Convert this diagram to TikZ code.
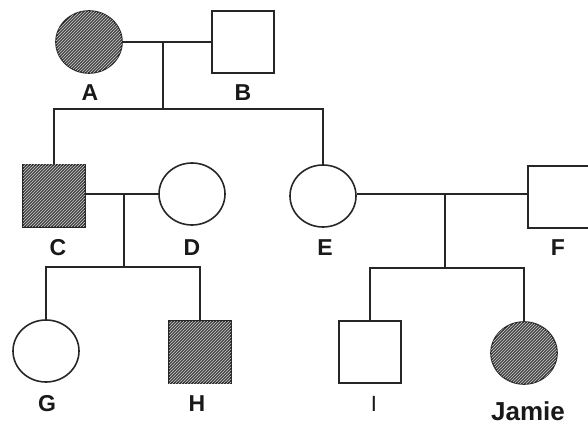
\documentclass[tikz,border=0pt]{standalone}
\usepackage{fontspec}
\setmainfont{Liberation Sans}
\usetikzlibrary{shapes.geometric,patterns}
\tikzset{
  line/.style={line width=1.6pt, draw=black!85},
  female/.style={ellipse, draw=black!85, line width=1.6pt, minimum width=66pt, minimum height=62pt, inner sep=0pt},
  male/.style={rectangle, draw=black!85, line width=1.6pt, minimum width=62pt, minimum height=62pt, inner sep=0pt},
  affected/.style={fill=black!72, postaction={pattern=north east lines, pattern color=white!80!black}},
  lbl/.style={font=\bfseries\fontsize{23}{26}\selectfont, inner sep=0pt, text=black!90}
}
\begin{document}
\begin{tikzpicture}[x=1pt,y=-1pt]
\useasboundingbox (0,0) rectangle (588,427);
% generation I
\node[female,affected] (A) at (89,42) {};
\node[male] (B) at (243,42) {};
% generation II
\node[male,affected] (C) at (54,196) {};
\node[female] (D) at (192,194) {};
\node[female] (E) at (323,196) {};
\node[male] (F) at (559,197) {};
% generation III
\node[female] (G) at (46,351) {};
\node[male,affected] (H) at (200,352) {};
\node[male] (I) at (370,352) {};
\node[female,affected] (J) at (524,353) {};
% labels
\node[lbl] (lA) at (90,93) {A};
\node[lbl] (lB) at (243,93) {B};
\node[lbl] (lC) at (58,248) {C};
\node[lbl] (lD) at (192,248) {D};
\node[lbl] (lE) at (325,248) {E};
\node[lbl] (lF) at (558,248) {F};
\node[lbl] (lG) at (47,404) {G};
\node[lbl] (lH) at (197,404) {H};
\node[lbl, font=\fontsize{22}{26}\selectfont] (lI) at (374,404) {I};
\node[lbl, font=\bfseries\fontsize{26}{30}\selectfont] (lJ) at (528,411) {Jamie};
% junction coordinates
\coordinate (ab) at (163,42);
\coordinate (ab2) at (163,109);
\coordinate (cd) at (124,194);
\coordinate (cd2) at (124,267);
\coordinate (ef) at (445,194);
\coordinate (ef2) at (445,268);
% connectors
\draw[line] (A.east) -- (B.west);
\draw[line] (ab) -- (ab2);
\draw[line] (C.north) |- (ab2) -| (E.north);
\draw[line] (C.east |- cd) -- (D.west |- cd);
\draw[line] (cd) -- (cd2);
\draw[line] (G.north) |- (cd2) -| (H.north);
\draw[line] (E.east |- ef) -- (F.west |- ef);
\draw[line] (ef) -- (ef2);
\draw[line] (I.north) |- (ef2) -| (J.north);
\end{tikzpicture}
\end{document}
